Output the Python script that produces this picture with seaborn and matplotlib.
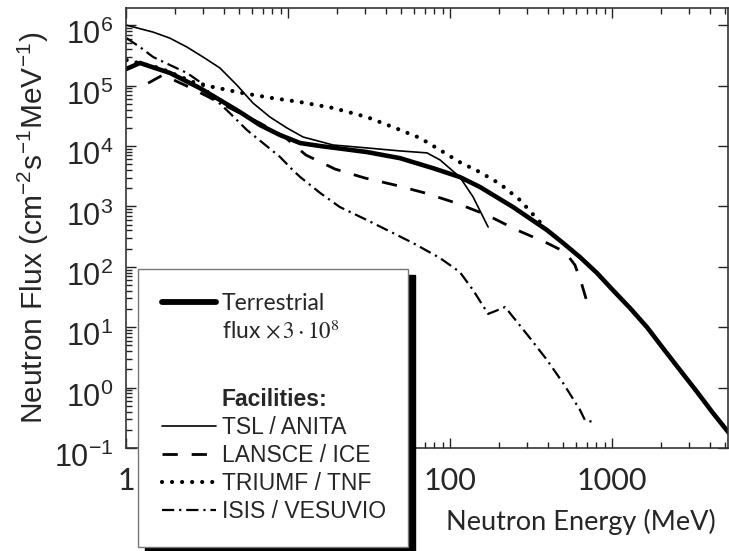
import numpy as np
import pandas as pd
import seaborn as sns
import matplotlib.pyplot as plt
import matplotlib.transforms as mtransforms
from matplotlib.lines import Line2D

# Neutron energy (MeV) and flux (cm^-2 s^-1 MeV^-1)
terr_e = [1.0, 1.22, 1.87, 2.86, 3.80, 5.05, 6.71, 8.93, 11.9, 15.8, 19.0, 30.7, 49.1, 78.5,
          115, 153, 245, 397, 499, 634, 808, 1014, 1291, 1645, 2065, 2630, 3349, 4200, 5275]
terr_f = [1.88e5, 2.37e5, 1.62e5, 9.1e4, 5.78e4, 3.66e4, 2.23e4, 1.52e4, 1.12e4, 1.0e4, 9.4e3,
          7.95e3, 6.3e3, 4.3e3, 3.07e3, 2.1e3, 977, 406, 248, 145, 79, 41, 20.8, 10, 4.5, 1.95,
          0.85, 0.38, 0.177]

tsl_e = [1.01, 1.47, 1.87, 2.38, 2.99, 3.80, 4.84, 6.08, 7.74, 9.86, 12.4, 19.0, 30.7, 49.1,
         72.1, 86.7, 115, 139, 172]
tsl_f = [1.0e6, 7.7e5, 6.1e5, 4.35e5, 2.98e5, 1.96e5, 1.02e5, 5.15e4, 3.02e4, 1.99e4, 1.41e4,
         1.04e4, 9.3e3, 8.3e3, 7.7e3, 5.9e3, 3.07e3, 1.43e3, 456]

lansce_e = [1.37, 1.69, 2.31, 3.07, 4.38, 6.71, 9.58, 12.9, 19.5, 29.9, 45.8, 70.1, 109, 169,
            259, 397, 513, 591, 653, 711]
lansce_f = [1.10e5, 1.50e5, 1.02e5, 6.98e4, 4.26e4, 2.40e4, 1.40e4, 7.1e3, 4.16e3, 2.95e3,
            2.26e3, 1.67e3, 1.14e3, 721, 407, 248, 176, 107, 50, 23]

triumf_e = [1.01, 1.62, 2.59, 3.44, 5.28, 8.08, 11.9, 19.0, 30.7, 44.5, 65.3, 86.7, 115, 153,
            204, 270, 359]
triumf_f = [2.65e5, 1.95e5, 1.15e5, 9.5e4, 7.5e4, 6.2e4, 5.35e4, 4.26e4, 3.02e4, 2.06e4,
            1.36e4, 8.6e3, 5.4e3, 3.7e3, 2.35e3, 1.28e3, 552]

isis_e = [1.01, 1.22, 1.47, 1.87, 2.38, 2.86, 3.44, 4.38, 5.58, 7.01, 8.93, 10.7, 11.9, 15.8,
          20.9, 30.7, 44.5, 59.1, 86.7, 115, 139, 172, 198, 219, 245, 312, 397, 499, 634, 681, 763]
isis_f = [6.1e5, 4.35e5, 2.98e5, 2.19e5, 1.62e5, 1.15e5, 6.5e4, 3.5e4, 1.84e4, 1.12e4, 6.6e3,
          4.0e3, 3.07e3, 1.67e3, 977, 595, 363, 248, 140, 82, 41, 16.6, 19.3, 21.6, 14.8, 6.6,
          2.87, 1.19, 0.43, 0.29, 0.27]

facility_names = ['TSL / ANITA', 'LANSCE / ICE', 'TRIUMF / TNF', 'ISIS / VESUVIO']
terr_label = ['Terrestrial', r'flux $\times\,3\cdot10^{8}$']
header = 'Facilities:'

x_ticks = [1, 10, 100, 1000]
x_ticklabels = ['1', '10', '100', '1000']
y_ticks = [1e-1, 1e0, 1e1, 1e2, 1e3, 1e4, 1e5, 1e6]

sns.set_style('ticks')
plt.rcParams['font.family'] = ['Liberation Sans', 'DejaVu Sans']
plt.rcParams['mathtext.fontset'] = 'stix'
plt.rcParams['axes.unicode_minus'] = False

fig = plt.figure(figsize=(7.29, 5.51), dpi=100)
ax = fig.add_axes([0.1728, 0.1869, 0.8258, 0.7986])

styles = {
    'terr': dict(lw=3.3, ls='-'),
    'tsl': dict(lw=1.2, ls='-'),
    'lansce': dict(lw=2.0, ls=(0, (5.5, 5.0))),
    'triumf': dict(lw=3.0, ls=(0, (0.01, 2.4)), dash_capstyle='round'),
    'isis': dict(lw=1.6, ls=(0, (5.5, 2.2, 1.0, 2.2))),
}

series = [
    ('terr', terr_e, terr_f),
    ('tsl', tsl_e, tsl_f),
    ('lansce', lansce_e, lansce_f),
    ('triumf', triumf_e, triumf_f),
    ('isis', isis_e, isis_f),
]
for key, e, f in series:
    df = pd.DataFrame({'energy': e, 'flux': f})
    sns.lineplot(data=df, x='energy', y='flux', ax=ax, color='black', estimator=None,
                 sort=False, **styles[key])

ax.set_xscale('log')
ax.set_yscale('log')
ax.set_xlim(1, 5200)
ax.set_ylim(0.1, 1.93e6)

ax.set_xticks(x_ticks)
ax.set_xticklabels(x_ticklabels, fontfamily='Lato', fontsize=22)
ax.set_yticks(y_ticks)
ax.tick_params(axis='y', labelsize=22, pad=9)
ax.tick_params(axis='x', pad=14)
ax.tick_params(which='both', direction='in', top=True, right=True, width=1, color='#222222')
ax.tick_params(which='major', length=7)
ax.tick_params(which='minor', length=4)
ax.tick_params(axis='y', which='minor', right=False)

shift = mtransforms.ScaledTranslation(0, -5 / 72, fig.dpi_scale_trans)
for lab in ax.get_yticklabels():
    lab.set_transform(lab.get_transform() + shift)

for sp in ax.spines.values():
    sp.set_linewidth(1.2)
    sp.set_color('#333333')

ax.set_xlabel('Neutron Energy (MeV)', fontfamily='Lato', fontsize=19.5)
ax.xaxis.set_label_coords(0.756, -0.138)
ax.set_ylabel(r'Neutron Flux (cm$^{\mathdefault{-2}}$s$^{\mathdefault{-1}}$MeV$^{\mathdefault{-1}}$)',
              fontsize=21.5)
ax.yaxis.set_label_coords(-0.125, 0.5)

# legend
blank = Line2D([], [], color='none')
handles = [Line2D([], [], color='black', lw=4.2), blank, blank, blank]
labels = [terr_label[0], terr_label[1], ' ', header]
for key in ['tsl', 'lansce', 'triumf', 'isis']:
    handles.append(Line2D([], [], color='black', **styles[key]))
labels += facility_names

leg = fig.legend(handles, labels, loc='upper left', mode='expand',
                 bbox_to_anchor=(138 / 729, 0.0, 270 / 729, 1 - 269 / 551),
                 borderaxespad=0, fontsize=16.5, frameon=True, fancybox=False, framealpha=1,
                 edgecolor='#777777', borderpad=1.05, labelspacing=0.22,
                 handlelength=2.36, handletextpad=0.25,
                 shadow={'color': 'black', 'alpha': 1, 'ox': 5, 'oy': -4})
leg.get_frame().set_linewidth(1.0)
texts = leg.get_texts()
texts[0].set_fontfamily('Lato')
texts[0].set_fontsize(16.5)
texts[1].set_fontfamily('Lato')
texts[1].set_fontsize(16.5)
texts[2].set_fontsize(26)
texts[3].set_fontweight('bold')

fig.savefig('out.png', dpi=100)
